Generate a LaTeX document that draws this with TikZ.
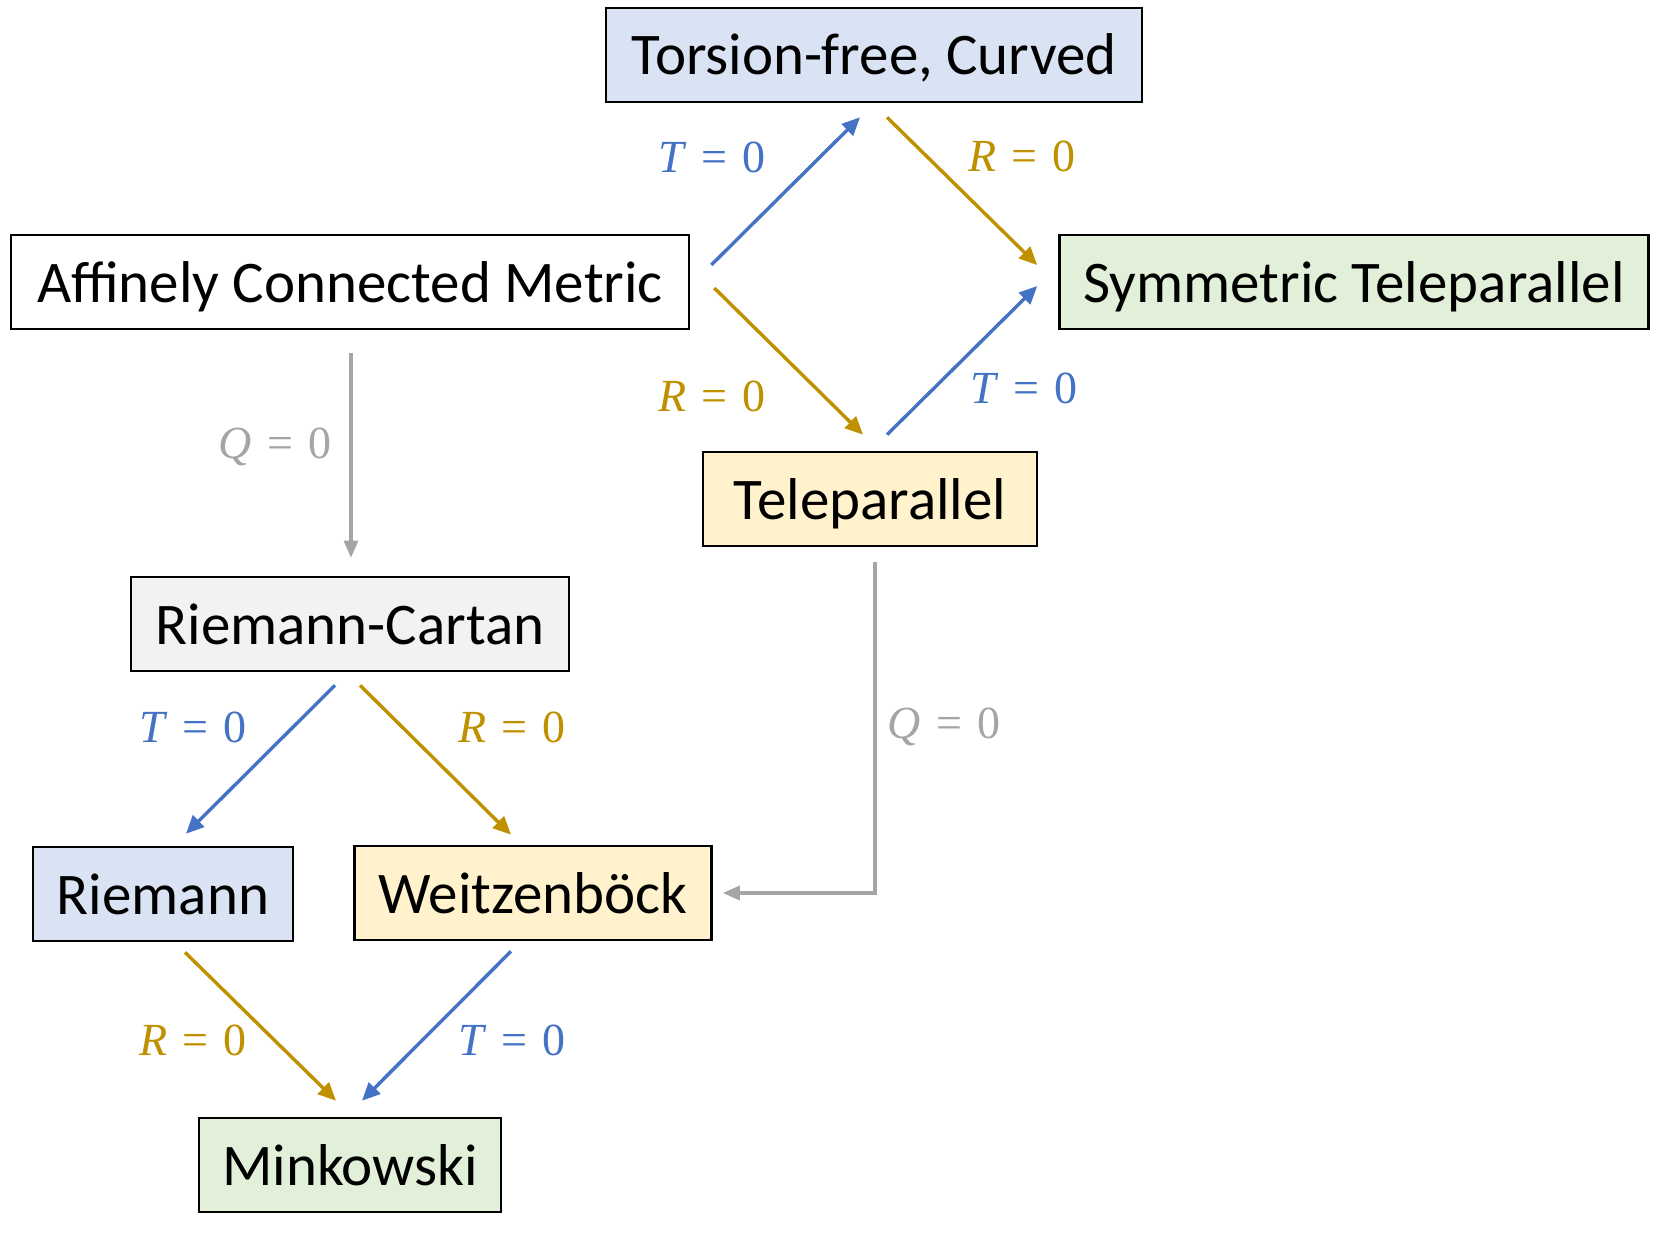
\documentclass[tikz,border=0pt]{standalone}
\usepackage{fontspec}
\setmainfont{Carlito}
\newfontfamily\labfont{Liberation Serif}
\usetikzlibrary{arrows.meta,calc}
\definecolor{cblue}{HTML}{4472C4}
\definecolor{cgold}{HTML}{BF9000}
\definecolor{cgray}{HTML}{A5A5A5}
\definecolor{fblue}{HTML}{DAE3F3}
\definecolor{fgreen}{HTML}{E2F0D9}
\definecolor{fyellow}{HTML}{FFF2CC}
\definecolor{fgray}{HTML}{F2F2F2}
\newcommand{\eqz}[1]{\textit{#1}\,\,=\,\,0}
\tikzset{
  box/.style={draw=black, line width=1.3pt, minimum height=47pt, inner sep=0pt,
    text height=20pt, text depth=0pt,
    font=\fontsize{29.5}{34}\selectfont},
  lab/.style={font=\labfont\fontsize{23}{27}\selectfont, inner sep=0pt},
  arr/.style={line width=1.7pt, -{Triangle[length=9pt,width=8pt]}},
  barr/.style={arr, cblue},
  garr/.style={arr, cgold},
  qarr/.style={line width=1.6pt, cgray, -{Triangle[length=8.5pt,width=7pt]}},
}
\begin{document}
\begin{tikzpicture}[x=0.5pt,y=-0.5pt]
\useasboundingbox (0,0) rectangle (1661,1236);
\node[box, fill=fblue,  minimum width=268pt] (tor)  at (874,55)  {Torsion-free, Curved};
\node[box, fill=white,  minimum width=339pt] (aff)  at (350,282) {Affinely Connected Metric};
\node[box, fill=fgreen, minimum width=294.5pt] (sym) at (1354,282) {Symmetric Teleparallel};
\node[box, fill=fyellow,minimum width=167pt] (tele) at (870,499) {Teleparallel};
\node[box, fill=fgray,  minimum width=219pt] (rc)   at (350,624) {Riemann-Cartan};
\node[box, fill=fblue,  minimum width=130pt] (riem) at (163,894) {Riemann};
\node[box, fill=fyellow,minimum width=178.5pt] (weit) at (533,893) {Weitzenböck};
\node[box, fill=fgreen, minimum width=151pt] (mink) at (350,1165) {Minkowski};

\draw[barr] ($(aff.east)+(21,-17)$) -- ($(tor.south)+(-14,14)$);
\draw[garr] ($(tor.south)+(13,14)$) -- ($(sym.west)+(-21,-17)$);
\draw[garr] ($(aff.east)+(24,6)$) -- ($(tele.north)+(-7,-16)$);
\draw[barr] ($(tele.north)+(17,-16)$) -- ($(sym.west)+(-21,4)$);
\draw[qarr] ($(aff.south)+(1,23)$) -- ($(rc.north)+(1,-18)$);
\draw[barr] ($(rc.south)+(-15,13)$) -- ($(riem.north)+(23,-12)$);
\draw[garr] ($(rc.south)+(10,13)$) -- ($(weit.north)+(-22,-10)$);
\draw[garr] ($(riem.south)+(22,10)$) -- ($(mink.north)+(-14,-16)$);
\draw[barr] ($(weit.south)+(-22,10)$) -- ($(mink.north)+(12,-16)$);
\draw[qarr] ($(tele.south)+(5,15)$) |- ($(weit.east)+(10,0)$);

\node[lab, text=cblue] (l1) at (712,157) {\eqz{T}};
\node[lab, text=cgold] (l2) at (1022,156) {\eqz{R}};
\node[lab, text=cgold] (l3) at (712,396) {\eqz{R}};
\node[lab, text=cblue] (l4) at (1024,388) {\eqz{T}};
\node[lab, text=cgray] (l5) at (275,447) {\eqz{Q}};
\node[lab, text=cblue] (l6) at (193,727) {\eqz{T}};
\node[lab, text=cgold] (l7) at (512,727) {\eqz{R}};
\node[lab, text=cgold] (l8) at (193,1040) {\eqz{R}};
\node[lab, text=cblue] (l9) at (512,1040) {\eqz{T}};
\node[lab, text=cgray] (l10) at (944,727) {\eqz{Q}};
\end{tikzpicture}
\end{document}
